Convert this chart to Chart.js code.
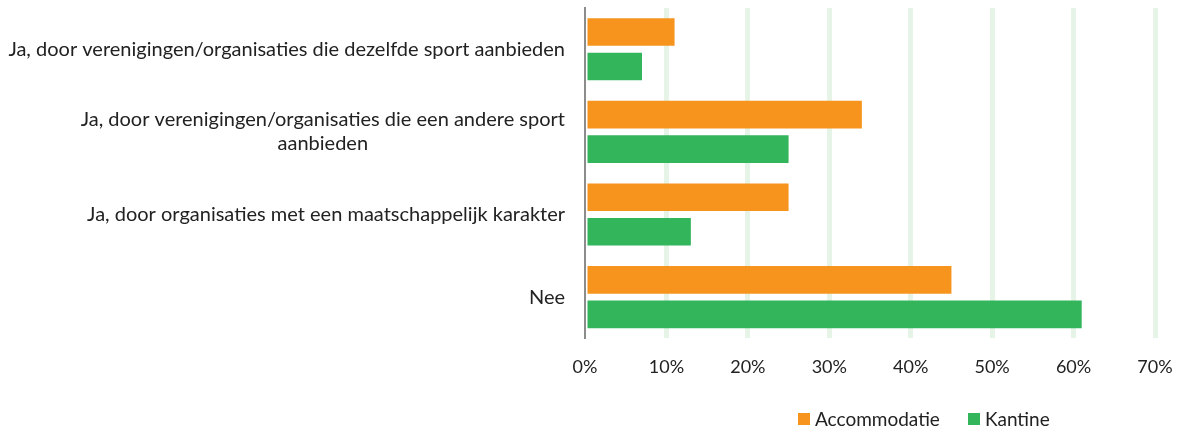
<!DOCTYPE html>
<html lang="nl">
<head>
<meta charset="utf-8">
<title>Gedeeld gebruik accommodatie en kantine</title>
<script src="https://cdn.jsdelivr.net/npm/chart.js@4/dist/chart.umd.min.js"></script>
<style>
  html, body { margin: 0; padding: 0; background: #fff; }
  #wrap { position: relative; width: 1181px; height: 428px; }
  #legend {
    position: absolute; left: 798px; top: 407px;
    display: flex; align-items: center;
    font-family: Lato, sans-serif; font-size: 19px; color: #222;
  }
  #legend .item { display: flex; align-items: center; margin-right: 28px; }
  #legend .box { width: 12px; height: 12px; margin-right: 5px; }
</style>
</head>
<body>
<div id="wrap">
  <canvas id="chart" width="1181" height="428"></canvas>
  <div id="legend"></div>
</div>
<script>
// answers (multi-line labels are arrays of lines)
const categories = [
  ['Ja, door verenigingen/organisaties die dezelfde sport aanbieden'],
  ['Ja, door verenigingen/organisaties die een andere sport', 'aanbieden'],
  ['Ja, door organisaties met een maatschappelijk karakter'],
  ['Nee']
];
const seriesNames = ['Accommodatie', 'Kantine'];
const accommodatie = [11, 34, 25, 45];
const kantine = [7, 25, 13, 61];
const xTickValues = [0, 10, 20, 30, 40, 50, 60, 70];

const ORANGE = '#F7941E';
const GREEN = '#33B55B';
const TEXT = '#222222';
const FONT = 'Lato';

// y labels are drawn by hand so wrapped lines stay centred under each other
const categoryLabels = {
  id: 'categoryLabels',
  afterDraw(chart) {
    const { ctx, chartArea, scales } = chart;
    const y = scales.y;
    const lineHeight = 24;
    ctx.save();
    ctx.font = `20px ${FONT}`;
    ctx.fillStyle = TEXT;
    ctx.textAlign = 'center';
    ctx.textBaseline = 'middle';
    categories.forEach((lines, i) => {
      const cy = y.getPixelForTick(i);
      const maxW = Math.max(...lines.map(l => ctx.measureText(l).width));
      const cx = chartArea.left - 20 - maxW / 2;
      const top = cy - (lines.length - 1) * lineHeight / 2;
      lines.forEach((l, j) => ctx.fillText(l, cx, top + j * lineHeight));
    });
    ctx.restore();
  }
};

const chart = new Chart(document.getElementById('chart'), {
  type: 'bar',
  data: {
    labels: categories.map(c => c.join(' ')),
    datasets: [
      {
        label: seriesNames[0],
        data: accommodatie,
        backgroundColor: ORANGE,
        categoryPercentage: 0.836,
        barPercentage: 0.8
      },
      {
        label: seriesNames[1],
        data: kantine,
        backgroundColor: GREEN,
        categoryPercentage: 0.836,
        barPercentage: 0.8
      }
    ]
  },
  options: {
    indexAxis: 'y',
    responsive: false,
    animation: false,
    layout: {
      padding: { top: 8, right: 26, bottom: 32, left: 0 }
    },
    plugins: {
      legend: { display: false },
      tooltip: { enabled: false }
    },
    scales: {
      x: {
        min: 0,
        max: 70,
        afterBuildTicks(scale) {
          scale.ticks = xTickValues.map(v => ({ value: v }));
        },
        afterFit(scale) {
          // let the layout padding decide the room for the end labels
          scale.paddingLeft = 0;
          scale.paddingRight = 0;
        },
        grid: {
          color: ctx => (ctx.index === 0 ? 'rgba(0,0,0,0)' : '#E6F4E8'),
          lineWidth: 5,
          drawTicks: false
        },
        border: { display: false },
        ticks: {
          padding: 18,
          color: TEXT,
          font: { family: FONT, size: 18 },
          callback: v => v + '%'
        }
      },
      y: {
        grid: { display: false, drawTicks: false },
        border: { display: true, color: '#8C8C8C', width: 2 },
        ticks: { display: false },
        afterFit(scale) {
          scale.width = 585;
        }
      }
    }
  },
  plugins: [categoryLabels]
});

// legend built from the datasets
const legend = document.getElementById('legend');
chart.data.datasets.forEach(ds => {
  const item = document.createElement('div');
  item.className = 'item';
  const box = document.createElement('span');
  box.className = 'box';
  box.style.background = ds.backgroundColor;
  const label = document.createElement('span');
  label.textContent = ds.label;
  item.appendChild(box);
  item.appendChild(label);
  legend.appendChild(item);
});
</script>
</body>
</html>
